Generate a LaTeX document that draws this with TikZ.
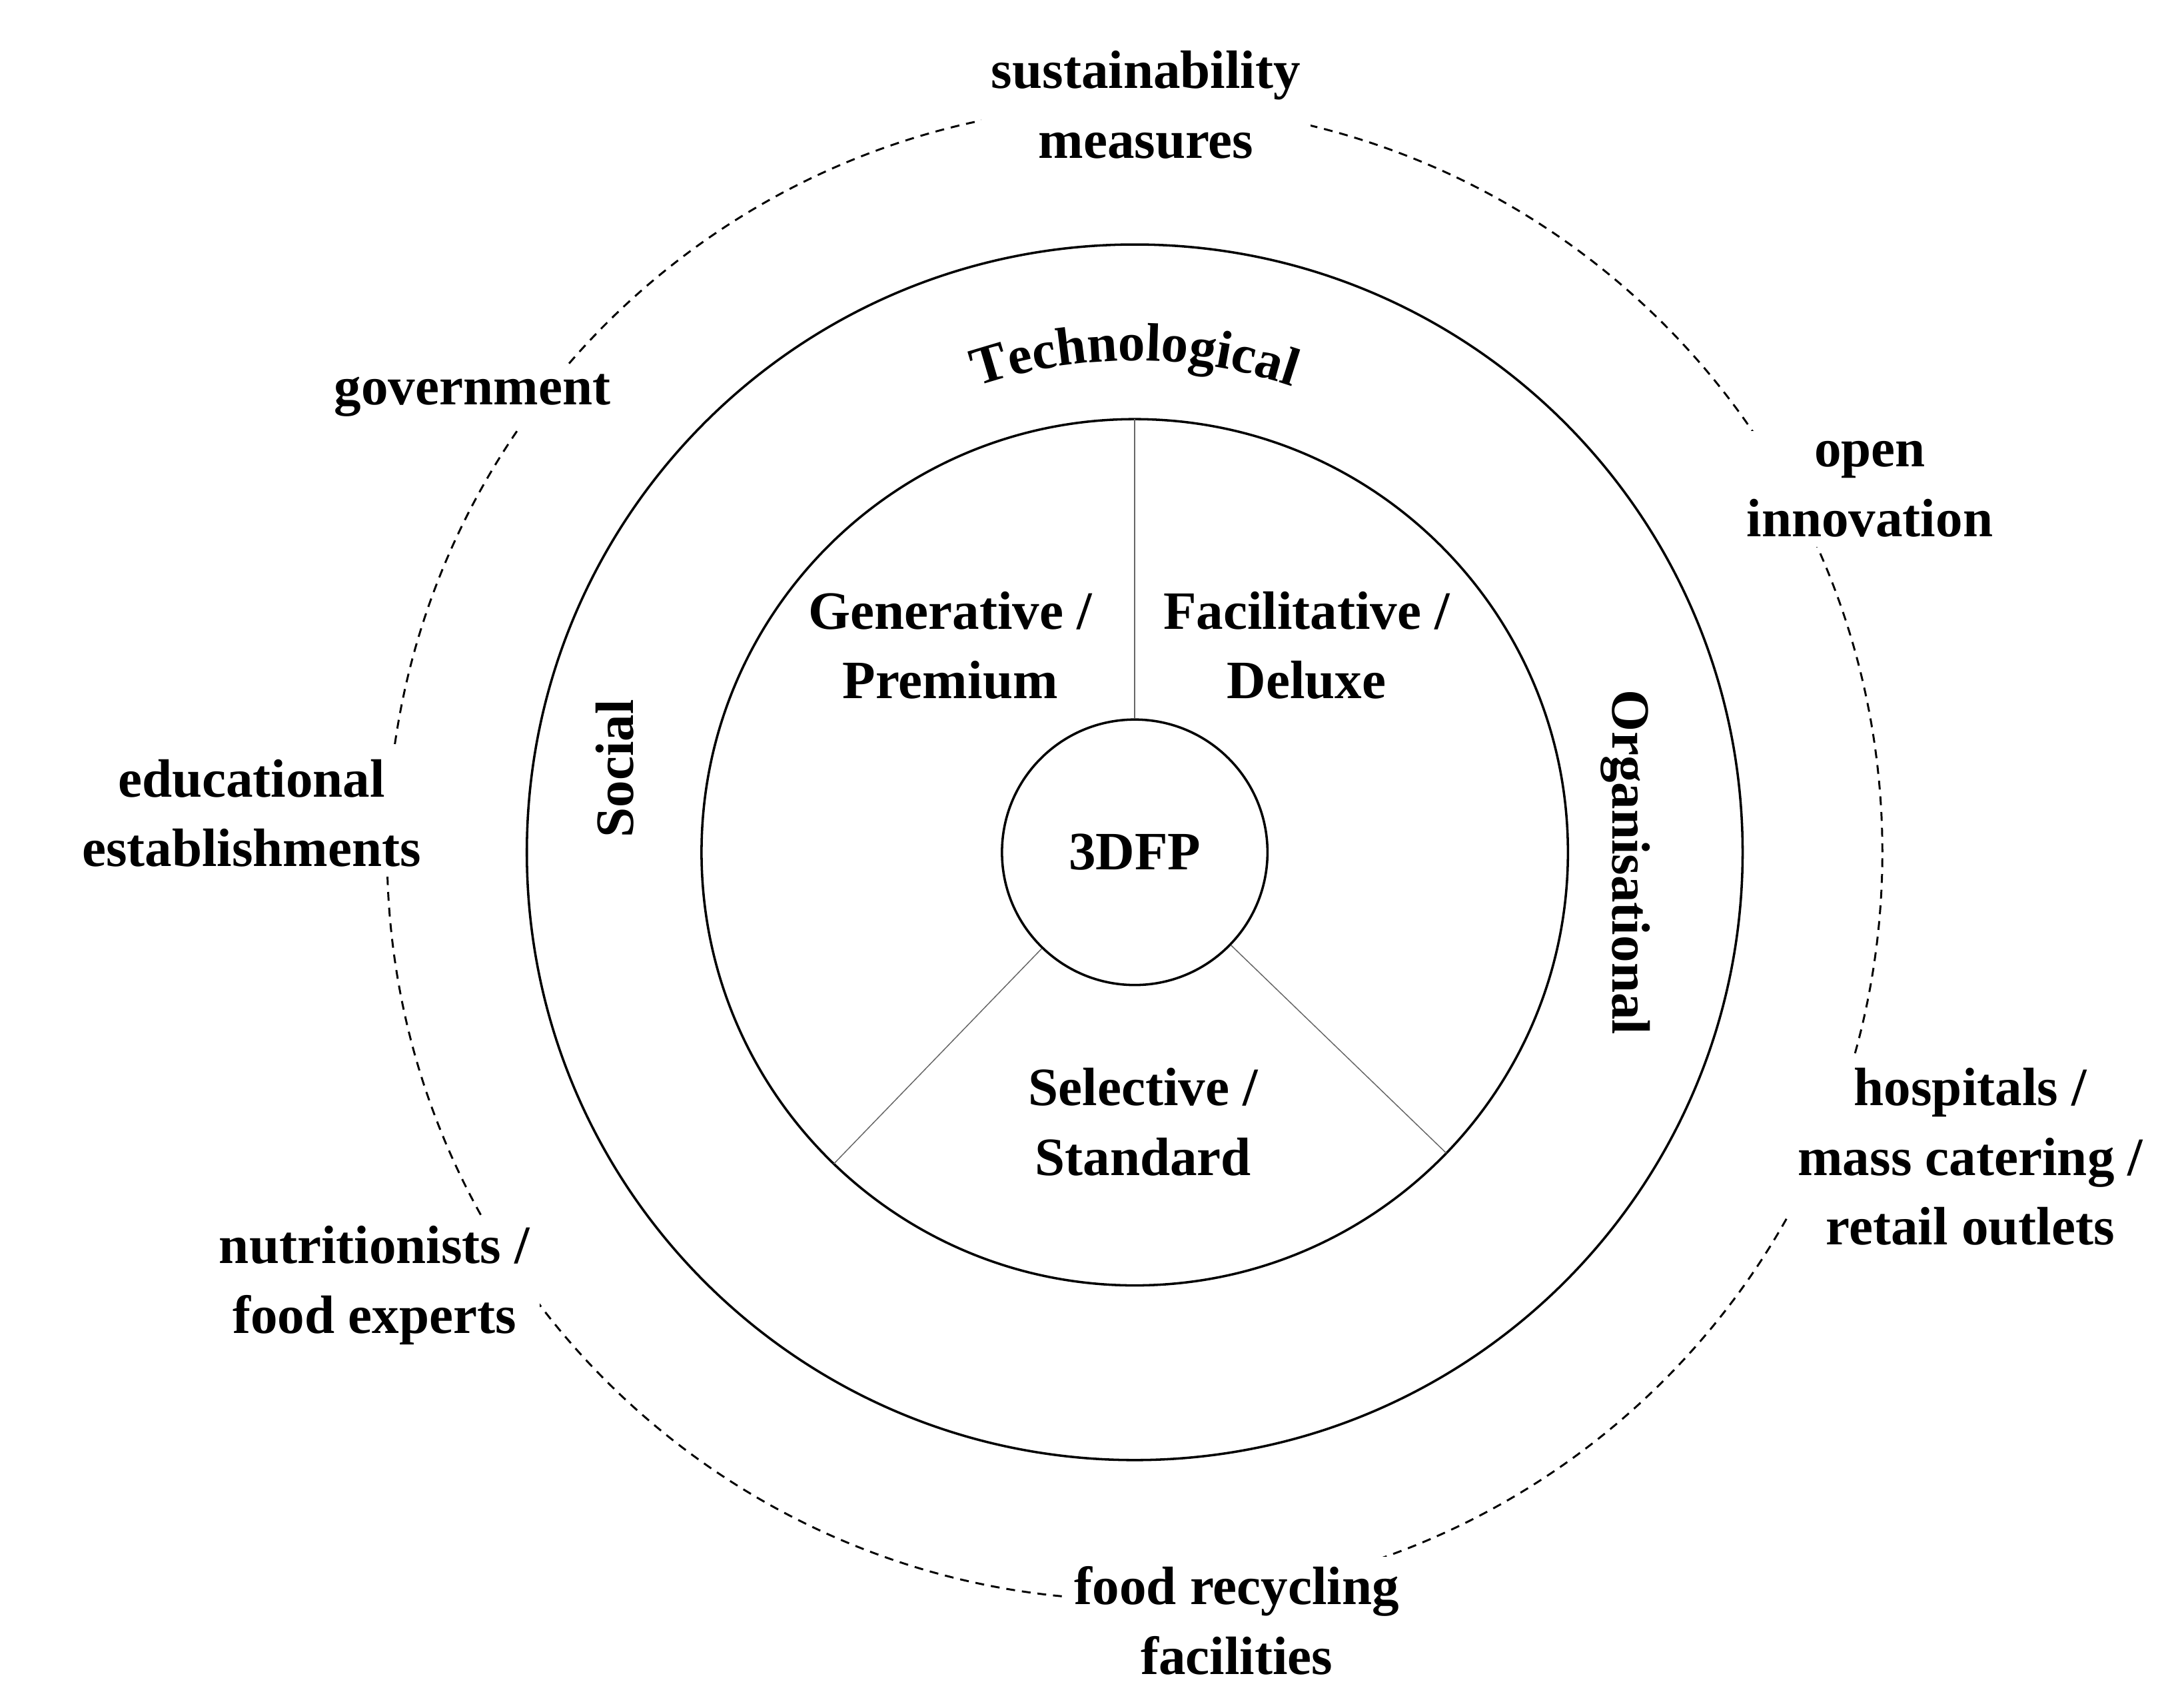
\documentclass[tikz,border=0pt]{standalone}
\usepackage{fontspec}
\setmainfont{Liberation Serif}
\usetikzlibrary{decorations.text,calc}
\begin{document}
\begin{tikzpicture}[x=0.05cm,y=0.05cm,
  lab/.style={font=\fontsize{55}{71}\selectfont\bfseries, align=center, fill=white, inner sep=10pt},
  txt/.style={font=\fontsize{55}{71}\selectfont\bfseries, align=center},
  ring/.style={line width=2.4pt},
  spoke/.style={line width=1pt, gray!80!black}]
\useasboundingbox (0,0) rectangle (1560,1222);
\coordinate (c) at (812,612);
\draw[dash pattern=on 9pt off 7pt, line width=2pt] (c) circle[radius=535];
\draw[ring] (c) circle[radius=435];
\draw[ring] (c) circle[radius=310];
\node[circle, draw, line width=2.4pt, minimum size=190*0.05cm, inner sep=0pt, txt] (core) at (c) {3DFP};
\coordinate (t1) at ($(c)+(90:310)$);
\coordinate (t2) at ($(c)+(226:310)$);
\coordinate (t3) at ($(c)+(-44:310)$);
\draw[spoke] (core.90) -- (t1);
\draw[spoke] (core.226) -- (t2);
\draw[spoke] (core.-44) -- (t3);
\path[decorate, decoration={text along path, text align=center,
  text={|\fontsize{55}{71}\selectfont\bfseries|Technological}}]
  ([shift=(130:352)]c) arc[start angle=130, end angle=50, radius=352];
\node[rotate=90, txt] (soc) at (440,672) {Social};
\node[rotate=-90, txt] (org) at (1163,605) {Organisational};
\node[txt] (gen) at (680,760) {Generative /\\Premium};
\node[txt] (fac) at (935,760) {Facilitative /\\Deluxe};
\node[txt] (sel) at (818,419) {Selective /\\Standard};
\node[lab] (sus) at (820,1147) {sustainability\\measures};
\node[lab] (gov) at (338,939) {government};
\node[lab] (open) at (1338,872) {open\\innovation};
\node[lab] (edu) at (180,640) {educational\\establishments};
\node[lab] (hos) at (1410,394) {hospitals /\\mass catering /\\retail outlets};
\node[lab] (nut) at (268,302) {nutritionists /\\food experts};
\node[lab] (rec) at (885,62) {food recycling\\facilities};
\end{tikzpicture}
\end{document}
